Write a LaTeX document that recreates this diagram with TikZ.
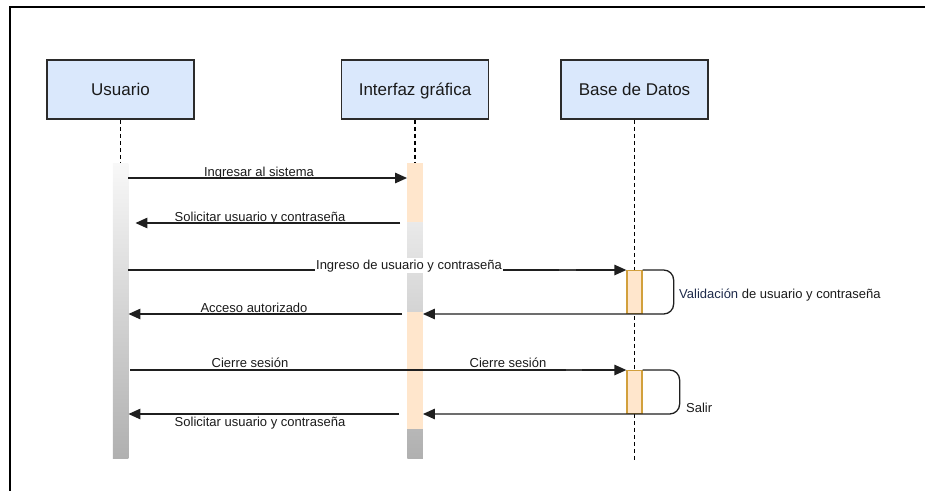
\documentclass[tikz,border=0pt]{standalone}
\usepackage{fontspec}
\setmainfont{Liberation Sans}
\usetikzlibrary{arrows.meta}
\definecolor{hdrfill}{HTML}{DAE8FC}
\definecolor{hdrline}{HTML}{2B2B2B}
\definecolor{actfill}{HTML}{FFE6CC}
\definecolor{actline}{HTML}{D2A03C}
\definecolor{barlight}{HTML}{F8F8F8}
\definecolor{bardark}{HTML}{B0B0B0}
\definecolor{msgtext}{HTML}{1A1A1A}
\definecolor{valtext}{HTML}{1E2A4A}
\begin{document}
\begin{tikzpicture}[x=1pt,y=-1pt,
  header/.style={draw=hdrline, line width=1.5pt, fill=hdrfill,
    minimum width=147pt, minimum height=59pt, inner sep=0pt,
    text height=12.5pt, text depth=0pt,
    font=\fontsize{17}{20}\selectfont, text=msgtext},
  lifeline/.style={dash pattern=on 4pt off 3pt, line width=1.2pt},
  bar/.style={draw=none, top color=barlight, bottom color=bardark,
    minimum width=15.5pt, inner sep=0pt, anchor=north},
  peach/.style={draw=none, fill=actfill, minimum width=15.5pt, inner sep=0pt, anchor=north},
  dbact/.style={draw=actline, line width=1.3pt, fill=actfill,
    minimum width=15pt, inner sep=0pt, anchor=north},
  msg/.style={line width=1.3pt, draw=black!88, -{Triangle[length=12pt,width=10.5pt]}},
  loopmsg/.style={msg, rounded corners=10pt},
  lbl/.style={font=\fontsize{13}{15}\selectfont, text=msgtext, inner sep=0pt, anchor=base},
  tick/.style={line width=2.4pt, draw=black!75}
]
\useasboundingbox (0,0) rectangle (925,490);

% outer frame
\draw[line width=2pt] (10,495) -- (10,7) -- (932,7);

% participants
\node[header] (user) at (120.5,89.5) {Usuario};
\node[header] (gui)  at (415,89.5)   {Interfaz gráfica};
\node[header] (db)   at (634.5,89.5) {Base de Datos};

% activation bars
\node[bar, minimum height=295pt] (ubar) at (120.5,163) {};
\node[bar, minimum height=295pt] (gbar) at (415,163) {};
\node[peach, minimum height=59pt]  (gact1) at (415,163) {};
\node[peach, minimum height=117pt] (gact2) at (415,312) {};

% lifelines
\coordinate (dbend) at (634.5,460);
\draw[lifeline] (user.south) -- (ubar.north);
\draw[lifeline] (gui.south) -- (gbar.north);
\draw[lifeline] (db.south) -- (dbend);

% database activations
\node[dbact, minimum height=43pt] (dact1) at (634.5,270) {};
\node[dbact, minimum height=43pt] (dact2) at (634.5,370) {};
\coordinate (loop1) at ([xshift=31pt]dact1.north east);
\coordinate (loop2) at ([xshift=37pt]dact2.north east);

% messages
\draw[msg] (ubar.east |- 0,178) -- (gbar.west |- 0,178);
\node[lbl] (m1) at (259,176) {Ingresar al sistema};

\draw[msg] ([xshift=-7pt]gbar.west |- 0,223) -- ([xshift=7pt]ubar.east |- 0,223);
\node[lbl] (m2) at (260,221) {Solicitar usuario y contraseña};

\draw[msg] (ubar.east |- 0,270) -- (dact1.north west);
\draw[tick] ([xshift=-67pt]dact1.north west) -- ([xshift=-50pt]dact1.north west);
\node[lbl, fill=white, inner sep=1.5pt] (m3) at (409,269) {Ingreso de usuario y contraseña};

\draw[loopmsg] (dact1.north east) -- (loop1) -- (loop1 |- 0,314) -- (gbar.east |- 0,314);
\node[lbl, anchor=base west] (m4) at (679,298) {\textcolor{valtext}{Validación} de usuario y contraseña};

\draw[msg] ([xshift=-5pt]gbar.west |- 0,314) -- (ubar.east |- 0,314);
\node[lbl] (m5) at (254,312) {Acceso autorizado};

\draw[msg] ([xshift=2pt]ubar.east |- 0,370) -- (dact2.north west);
\draw[tick] ([xshift=-60pt]dact2.north west) -- ([xshift=-44pt]dact2.north west);
\node[lbl] (m6) at (250,367) {Cierre sesión};
\node[lbl] (m7) at (508,367) {Cierre sesión};

\draw[loopmsg] (dact2.north east) -- (loop2) -- (loop2 |- 0,414) -- (gbar.east |- 0,414);
\node[lbl, anchor=base west] (m8) at (686,412) {Salir};

\draw[msg] ([xshift=-8pt]gbar.west |- 0,414) -- (ubar.east |- 0,414);
\node[lbl] (m9) at (260,426) {Solicitar usuario y contraseña};
\end{tikzpicture}
\end{document}
